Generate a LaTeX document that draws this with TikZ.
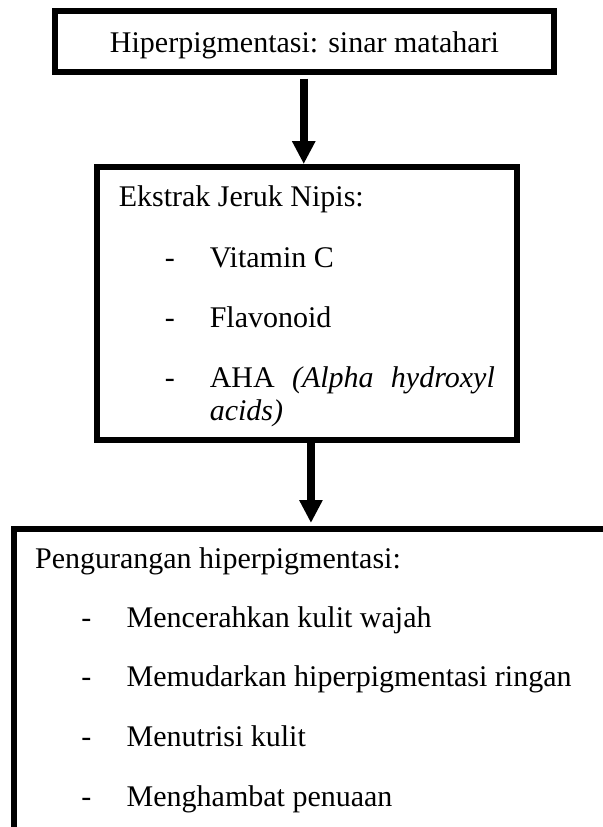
\documentclass[tikz,border=0pt]{standalone}
\usepackage{fontspec}
\setmainfont{Liberation Serif}
\usetikzlibrary{arrows.meta}
\tikzset{
  box/.style={draw, line width=2.4pt, rectangle, inner sep=0pt},
  txt/.style={anchor=base west, inner sep=0pt, align=left, font=\fontsize{12}{13.36}\selectfont},
  ctxt/.style={anchor=base, inner sep=0pt, font=\fontsize{12}{13.36}\selectfont},
  flow/.style={line width=3pt, -{Triangle[length=9.2pt,width=8.8pt]}}
}
\begin{document}
\begin{tikzpicture}[x=0.4pt,y=-0.4pt]
\fill[white] (0,0) rectangle (602,827);
\useasboundingbox (0,0) rectangle (602,827);
% boxes
\node[box, minimum width=199.84pt, minimum height=24.16pt] (top) at (304.5,41.5) {};
\node[box, minimum width=167.88pt, minimum height=109.32pt] (mid) at (307.2,303.7) {};
\node[box, minimum width=242.4pt, minimum height=128.4pt] (bot) at (317,689.5) {};
% texts
\node[ctxt] (t0) at (304.5,52.3) {Hiperpigmentasi: sinar matahari};
\node[txt] (m0) at (118.3,206.7) {Ekstrak Jeruk Nipis:};
\node[txt] (m1d) at (164.3,267.3) {-};
\node[txt] (m1) at (209.3,267.3) {Vitamin C};
\node[txt] (m2d) at (164.3,327.7) {-};
\node[txt] (m2) at (209.3,327.7) {Flavonoid};
\node[txt] (m3d) at (164.3,387.3) {-};
\node[txt] (m3) at (209.3,387.3) {\makebox[114pt][s]{AHA\hfill\textit{(Alpha}\hfill\textit{hydroxyl}}};
\node[txt] (m3b) at (209.3,420.7) {\textit{acids)}};
\node[txt] (b0) at (34.6,568.3) {Pengurangan hiperpigmentasi:};
\node[txt] (b1d) at (80.8,627.3) {-};
\node[txt] (b1) at (126.2,627.3) {Mencerahkan kulit wajah};
\node[txt] (b2d) at (80.8,686.7) {-};
\node[txt] (b2) at (126.2,686.7) {Memudarkan hiperpigmentasi ringan};
\node[txt] (b3d) at (80.8,746.7) {-};
\node[txt] (b3) at (126.2,746.7) {Menutrisi kulit};
\node[txt] (b4d) at (80.8,806.7) {-};
\node[txt] (b4) at (126.2,806.7) {Menghambat penuaan};
% arrows
\draw[flow, shorten <=1.6pt] ([xshift=-0.3pt]top.south) -- ([xshift=-0.3pt]top.south |- mid.north);
\draw[flow, shorten >=1.2pt] ([xshift=1.5pt]mid.south) -- ([xshift=1.5pt]mid.south |- bot.north);
\end{tikzpicture}
\end{document}
